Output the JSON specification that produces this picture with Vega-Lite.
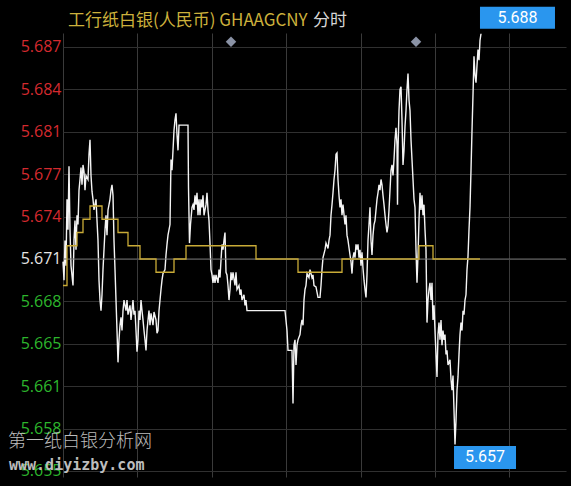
{
  "$schema": "https://vega.github.io/schema/vega-lite/v6.json",
  "width": 503,
  "height": 444,
  "autosize": {"type": "none"},
  "padding": {"left": 63, "top": 33, "right": 5, "bottom": 9},
  "background": "#000000",
  "config": {"view": {"stroke": null}},
  "datasets": {
    "price": [
      {"t": 0, "p": 5.6708}, {"t": 1, "p": 5.6694}, {"t": 2, "p": 5.6724}, {"t": 3, "p": 5.6705},
      {"t": 4, "p": 5.6755}, {"t": 5, "p": 5.6732}, {"t": 6, "p": 5.678}, {"t": 7, "p": 5.6732},
      {"t": 8, "p": 5.6705}, {"t": 10, "p": 5.669}, {"t": 11, "p": 5.6724}, {"t": 12, "p": 5.6739},
      {"t": 13, "p": 5.6717}, {"t": 14, "p": 5.6743}, {"t": 15, "p": 5.6736}, {"t": 16, "p": 5.6762},
      {"t": 17, "p": 5.677}, {"t": 18, "p": 5.6779}, {"t": 19, "p": 5.6766}, {"t": 20, "p": 5.6781},
      {"t": 21, "p": 5.6776}, {"t": 22, "p": 5.6762}, {"t": 23, "p": 5.6773}, {"t": 25, "p": 5.677},
      {"t": 26, "p": 5.6789}, {"t": 27, "p": 5.68}, {"t": 28, "p": 5.6773}, {"t": 29, "p": 5.6761},
      {"t": 30, "p": 5.6755}, {"t": 31, "p": 5.6747}, {"t": 33, "p": 5.6755}, {"t": 34, "p": 5.6739},
      {"t": 35, "p": 5.6724}, {"t": 36, "p": 5.6694}, {"t": 37, "p": 5.6679}, {"t": 38, "p": 5.6671},
      {"t": 39, "p": 5.6683}, {"t": 40, "p": 5.6702}, {"t": 41, "p": 5.6717}, {"t": 42, "p": 5.6732},
      {"t": 43, "p": 5.6743}, {"t": 44, "p": 5.6728}, {"t": 45, "p": 5.6747}, {"t": 47, "p": 5.6755},
      {"t": 48, "p": 5.6762}, {"t": 49, "p": 5.6766}, {"t": 50, "p": 5.6758}, {"t": 51, "p": 5.6724},
      {"t": 52, "p": 5.6702}, {"t": 53, "p": 5.6679}, {"t": 54, "p": 5.6656}, {"t": 55, "p": 5.6632},
      {"t": 56, "p": 5.6649}, {"t": 57, "p": 5.666}, {"t": 58, "p": 5.6666}, {"t": 59, "p": 5.6656},
      {"t": 60, "p": 5.6671}, {"t": 61, "p": 5.6679}, {"t": 63, "p": 5.6671}, {"t": 64, "p": 5.6679},
      {"t": 65, "p": 5.6668}, {"t": 67, "p": 5.6675}, {"t": 68, "p": 5.6664}, {"t": 70, "p": 5.6679},
      {"t": 71, "p": 5.6668}, {"t": 72, "p": 5.6671}, {"t": 73, "p": 5.6656}, {"t": 74, "p": 5.664},
      {"t": 75, "p": 5.6649}, {"t": 76, "p": 5.6671}, {"t": 77, "p": 5.6664}, {"t": 78, "p": 5.6679},
      {"t": 79, "p": 5.6671}, {"t": 80, "p": 5.6664}, {"t": 81, "p": 5.6656}, {"t": 82, "p": 5.6649},
      {"t": 83, "p": 5.6641}, {"t": 84, "p": 5.6656}, {"t": 85, "p": 5.6664}, {"t": 86, "p": 5.6671},
      {"t": 87, "p": 5.666}, {"t": 88, "p": 5.6669}, {"t": 90, "p": 5.666}, {"t": 91, "p": 5.667},
      {"t": 93, "p": 5.6664}, {"t": 94, "p": 5.6654}, {"t": 95, "p": 5.6656}, {"t": 96, "p": 5.6671},
      {"t": 97, "p": 5.6679}, {"t": 98, "p": 5.6687}, {"t": 99, "p": 5.6694}, {"t": 100, "p": 5.6699},
      {"t": 102, "p": 5.6702}, {"t": 103, "p": 5.6713}, {"t": 104, "p": 5.6721}, {"t": 105, "p": 5.6728},
      {"t": 107, "p": 5.6736}, {"t": 108, "p": 5.6785}, {"t": 109, "p": 5.6777}, {"t": 110, "p": 5.6792},
      {"t": 111, "p": 5.6807}, {"t": 112, "p": 5.6815}, {"t": 113, "p": 5.682}, {"t": 114, "p": 5.6804},
      {"t": 115, "p": 5.6792}, {"t": 116, "p": 5.6811}, {"t": 125, "p": 5.6811}, {"t": 125.5, "p": 5.6764},
      {"t": 126.5, "p": 5.6722}, {"t": 127.5, "p": 5.6736}, {"t": 129, "p": 5.6749}, {"t": 130, "p": 5.6751},
      {"t": 131, "p": 5.6747}, {"t": 132, "p": 5.6758}, {"t": 133, "p": 5.6751}, {"t": 134, "p": 5.676},
      {"t": 135, "p": 5.6743}, {"t": 136, "p": 5.6755}, {"t": 137, "p": 5.6743}, {"t": 138, "p": 5.6755},
      {"t": 139, "p": 5.6749}, {"t": 140, "p": 5.6758}, {"t": 141, "p": 5.6743}, {"t": 143, "p": 5.6751},
      {"t": 144, "p": 5.676}, {"t": 145, "p": 5.6747}, {"t": 146, "p": 5.6739}, {"t": 147, "p": 5.6722},
      {"t": 148, "p": 5.6702}, {"t": 149, "p": 5.6698}, {"t": 150, "p": 5.6692}, {"t": 151, "p": 5.6698},
      {"t": 152, "p": 5.6692}, {"t": 153, "p": 5.6698}, {"t": 155, "p": 5.6692}, {"t": 156, "p": 5.6702},
      {"t": 157, "p": 5.6696}, {"t": 158, "p": 5.6709}, {"t": 159, "p": 5.6721}, {"t": 160, "p": 5.6717},
      {"t": 161, "p": 5.6724}, {"t": 162, "p": 5.673}, {"t": 163, "p": 5.67}, {"t": 164, "p": 5.6698},
      {"t": 165, "p": 5.669}, {"t": 166, "p": 5.6679}, {"t": 167, "p": 5.6687}, {"t": 168, "p": 5.67},
      {"t": 169, "p": 5.6694}, {"t": 170, "p": 5.67}, {"t": 172, "p": 5.669}, {"t": 173, "p": 5.67},
      {"t": 174, "p": 5.6687}, {"t": 176, "p": 5.669}, {"t": 177, "p": 5.6683}, {"t": 178, "p": 5.6687},
      {"t": 179, "p": 5.6679}, {"t": 181, "p": 5.6683}, {"t": 182, "p": 5.6675}, {"t": 183, "p": 5.6679},
      {"t": 184, "p": 5.6671}, {"t": 222, "p": 5.6671}, {"t": 224, "p": 5.6656}, {"t": 225, "p": 5.6641},
      {"t": 229, "p": 5.6641}, {"t": 230, "p": 5.6601}, {"t": 231, "p": 5.6645}, {"t": 232, "p": 5.6649},
      {"t": 233, "p": 5.663}, {"t": 234, "p": 5.6645}, {"t": 235, "p": 5.6649}, {"t": 237, "p": 5.6653},
      {"t": 238, "p": 5.666}, {"t": 239, "p": 5.6664}, {"t": 240, "p": 5.666}, {"t": 241, "p": 5.6679},
      {"t": 242, "p": 5.6687}, {"t": 243, "p": 5.669}, {"t": 244, "p": 5.6699}, {"t": 246, "p": 5.6696},
      {"t": 247, "p": 5.6702}, {"t": 249, "p": 5.6696}, {"t": 250, "p": 5.6698}, {"t": 251, "p": 5.669},
      {"t": 253, "p": 5.6689}, {"t": 255, "p": 5.6681}, {"t": 257, "p": 5.6681}, {"t": 258, "p": 5.669},
      {"t": 259, "p": 5.6702}, {"t": 260, "p": 5.6711}, {"t": 262, "p": 5.6717}, {"t": 263, "p": 5.6722},
      {"t": 265, "p": 5.6718}, {"t": 266, "p": 5.6724}, {"t": 267, "p": 5.6728}, {"t": 268, "p": 5.6743},
      {"t": 269, "p": 5.6751}, {"t": 270, "p": 5.676}, {"t": 271, "p": 5.677}, {"t": 272, "p": 5.6777},
      {"t": 273, "p": 5.6789}, {"t": 274, "p": 5.679}, {"t": 275, "p": 5.677}, {"t": 276, "p": 5.6758},
      {"t": 277, "p": 5.6749}, {"t": 278, "p": 5.6755}, {"t": 279, "p": 5.6743}, {"t": 280, "p": 5.6751},
      {"t": 282, "p": 5.6736}, {"t": 283, "p": 5.6743}, {"t": 284, "p": 5.6728}, {"t": 285, "p": 5.6724},
      {"t": 287, "p": 5.6713}, {"t": 288, "p": 5.6708}, {"t": 289, "p": 5.6699}, {"t": 290, "p": 5.6711},
      {"t": 291, "p": 5.6715}, {"t": 292, "p": 5.6711}, {"t": 293, "p": 5.6721}, {"t": 294, "p": 5.6717},
      {"t": 295, "p": 5.6721}, {"t": 296, "p": 5.6711}, {"t": 297, "p": 5.6717}, {"t": 298, "p": 5.6705},
      {"t": 299, "p": 5.6715}, {"t": 300, "p": 5.6703}, {"t": 301, "p": 5.6694}, {"t": 302, "p": 5.6687},
      {"t": 303, "p": 5.6681}, {"t": 304, "p": 5.6698}, {"t": 305, "p": 5.6724}, {"t": 306, "p": 5.6736},
      {"t": 307, "p": 5.6749}, {"t": 308, "p": 5.6724}, {"t": 309, "p": 5.6713}, {"t": 310, "p": 5.6728},
      {"t": 311, "p": 5.6736}, {"t": 312, "p": 5.6739}, {"t": 313, "p": 5.6747}, {"t": 314, "p": 5.6755},
      {"t": 315, "p": 5.676}, {"t": 316, "p": 5.6766}, {"t": 317, "p": 5.6762}, {"t": 318, "p": 5.677},
      {"t": 319, "p": 5.6766}, {"t": 320, "p": 5.6758}, {"t": 321, "p": 5.6751}, {"t": 322, "p": 5.6743},
      {"t": 323, "p": 5.6736}, {"t": 324, "p": 5.673}, {"t": 325, "p": 5.6735}, {"t": 326, "p": 5.6747},
      {"t": 327, "p": 5.6762}, {"t": 328, "p": 5.6777}, {"t": 329, "p": 5.6781}, {"t": 330, "p": 5.6773},
      {"t": 331, "p": 5.6785}, {"t": 332, "p": 5.68}, {"t": 333, "p": 5.6809}, {"t": 334, "p": 5.6796},
      {"t": 334.5, "p": 5.6751}, {"t": 335, "p": 5.6792}, {"t": 336, "p": 5.6822}, {"t": 337, "p": 5.6838},
      {"t": 338, "p": 5.684}, {"t": 339, "p": 5.6815}, {"t": 340, "p": 5.6781}, {"t": 341, "p": 5.6792},
      {"t": 342, "p": 5.681}, {"t": 343, "p": 5.6822}, {"t": 344, "p": 5.6838}, {"t": 345, "p": 5.685},
      {"t": 346, "p": 5.683}, {"t": 347, "p": 5.6822}, {"t": 348, "p": 5.68}, {"t": 349, "p": 5.6785},
      {"t": 350, "p": 5.677}, {"t": 351, "p": 5.6755}, {"t": 352, "p": 5.6749}, {"t": 353, "p": 5.6717},
      {"t": 354, "p": 5.6692}, {"t": 355, "p": 5.6713}, {"t": 356, "p": 5.6739}, {"t": 357, "p": 5.676},
      {"t": 358, "p": 5.6747}, {"t": 359, "p": 5.6758}, {"t": 360, "p": 5.6743}, {"t": 361, "p": 5.6751},
      {"t": 362, "p": 5.6732}, {"t": 363, "p": 5.6717}, {"t": 364, "p": 5.6662}, {"t": 365, "p": 5.6679},
      {"t": 366, "p": 5.6687}, {"t": 367, "p": 5.6692}, {"t": 368, "p": 5.6679}, {"t": 369, "p": 5.6692},
      {"t": 370, "p": 5.6664}, {"t": 371, "p": 5.6675}, {"t": 372, "p": 5.6656}, {"t": 373, "p": 5.6638},
      {"t": 374, "p": 5.6621}, {"t": 375, "p": 5.6653}, {"t": 376, "p": 5.6662}, {"t": 377, "p": 5.6649},
      {"t": 378, "p": 5.6664}, {"t": 379, "p": 5.6645}, {"t": 380, "p": 5.6656}, {"t": 381, "p": 5.6649},
      {"t": 382, "p": 5.6653}, {"t": 383, "p": 5.6638}, {"t": 384, "p": 5.6641}, {"t": 385, "p": 5.663},
      {"t": 387, "p": 5.6634}, {"t": 388, "p": 5.6619}, {"t": 389, "p": 5.6611}, {"t": 390, "p": 5.6622},
      {"t": 391, "p": 5.6596}, {"t": 392, "p": 5.657}, {"t": 393, "p": 5.6588}, {"t": 394, "p": 5.6611},
      {"t": 395, "p": 5.6621}, {"t": 396, "p": 5.6638}, {"t": 397, "p": 5.6653}, {"t": 398, "p": 5.6662},
      {"t": 399, "p": 5.6656}, {"t": 400, "p": 5.6671}, {"t": 401, "p": 5.6668}, {"t": 402, "p": 5.6679},
      {"t": 403, "p": 5.6683}, {"t": 404, "p": 5.6702}, {"t": 405, "p": 5.6712}, {"t": 406, "p": 5.6732},
      {"t": 407, "p": 5.6749}, {"t": 408, "p": 5.6777}, {"t": 409, "p": 5.6807}, {"t": 410, "p": 5.6834},
      {"t": 411, "p": 5.6863}, {"t": 412, "p": 5.6849}, {"t": 413, "p": 5.6843}, {"t": 414, "p": 5.6856},
      {"t": 415, "p": 5.6868}, {"t": 416, "p": 5.686}, {"t": 417, "p": 5.6875}, {"t": 418, "p": 5.688}
    ],
    "average": [
      {"t": 0, "p": 5.669}, {"t": 4, "p": 5.672}, {"t": 14, "p": 5.673}, {"t": 20, "p": 5.674},
      {"t": 27, "p": 5.675}, {"t": 39, "p": 5.674}, {"t": 55, "p": 5.673}, {"t": 65, "p": 5.672},
      {"t": 77, "p": 5.671}, {"t": 93, "p": 5.67}, {"t": 111, "p": 5.671}, {"t": 123, "p": 5.672},
      {"t": 193, "p": 5.671}, {"t": 235, "p": 5.67}, {"t": 279, "p": 5.671}, {"t": 356, "p": 5.672},
      {"t": 370, "p": 5.671}, {"t": 417, "p": 5.671}
    ],
    "events": [{"t": 168}, {"t": 353}]
  },
  "layer": [
    {
      "data": {"name": "price"},
      "mark": {"type": "line", "color": "#f4f4f4", "strokeWidth": 1.4},
      "encoding": {
        "x": {
          "field": "t", "type": "quantitative",
          "scale": {"domain": [0, 503], "nice": false, "zero": false},
          "axis": {
            "title": null, "labels": false, "ticks": false, "domain": false, "grid": true,
            "values": [0, 19, 37, 56, 74, 93, 112, 130, 149, 167, 186, 205, 223, 242, 260, 279, 298, 316, 335, 353, 372, 391, 409, 428, 446, 465, 484, 502],
            "gridWidth": 1,
            "gridColor": {"condition": {"test": "datum.value % 37.2 > 5 && datum.value % 37.2 < 32", "value": "#303030"}, "value": "#3a3a3a"},
            "gridDash": {"condition": {"test": "datum.value % 37.2 > 5 && datum.value % 37.2 < 32", "value": [1, 2]}, "value": []}
          }
        },
        "y": {
          "field": "p", "type": "quantitative",
          "scale": {"domain": [5.654547, 5.688056], "nice": false, "zero": false},
          "axis": {
            "title": null, "ticks": false, "tickSize": 0, "domain": false, "grid": true,
            "gridColor": "#303030", "gridWidth": 1,
            "values": [5.655, 5.6582, 5.6614, 5.6646, 5.6678, 5.671, 5.6742, 5.6774, 5.6806, 5.6838, 5.687],
            "format": ".3f", "labelPadding": 2, "labelFont": "Open Sans", "labelFontSize": 16,
            "labelOverlap": false,
            "labelColor": {
              "condition": [
                {"test": "datum.value > 5.6712", "value": "#d42a2f"},
                {"test": "datum.value < 5.6708", "value": "#2db62d"}
              ],
              "value": "#e4e4e4"
            }
          }
        }
      }
    },
    {
      "data": {"values": [{}]},
      "mark": {"type": "rule", "color": "#676767", "strokeWidth": 1},
      "encoding": {"y": {"datum": 5.671, "type": "quantitative"}}
    },
    {
      "data": {"name": "average"},
      "mark": {"type": "line", "color": "#c9ab37", "strokeWidth": 1.3, "interpolate": "step-after"},
      "encoding": {
        "x": {"field": "t", "type": "quantitative"},
        "y": {"field": "p", "type": "quantitative"}
      }
    },
    {
      "data": {"name": "events"},
      "mark": {"type": "point", "shape": "diamond", "filled": true, "size": 110, "color": "#8a92a5", "opacity": 1},
      "encoding": {
        "x": {"field": "t", "type": "quantitative"},
        "y": {"datum": 5.6874, "type": "quantitative"}
      }
    },
    {
      "data": {"name": "price"},
      "transform": [
        {"joinaggregate": [{"op": "max", "field": "t", "as": "tLast"}]},
        {"filter": "datum.t === datum.tLast"}
      ],
      "encoding": {
        "x": {"field": "t", "type": "quantitative"},
        "y": {"field": "p", "type": "quantitative"}
      },
      "layer": [
        {"mark": {"type": "point", "shape": "M-0.027,-0.72H1.973V-0.133H-0.027Z", "size": 5625, "filled": true, "color": "#2a96ee", "opacity": 1, "strokeWidth": 0}},
        {
          "mark": {"type": "text", "dx": 36.5, "dy": -16, "align": "center", "baseline": "middle", "color": "#ffffff", "font": "Roboto", "fontSize": 16},
          "encoding": {"text": {"field": "p", "type": "quantitative", "format": ".3f"}}
        }
      ]
    },
    {
      "data": {"name": "price"},
      "transform": [
        {"joinaggregate": [{"op": "min", "field": "p", "as": "pLow"}]},
        {"filter": "datum.p === datum.pLow"}
      ],
      "encoding": {
        "x": {"field": "t", "type": "quantitative"},
        "y": {"field": "p", "type": "quantitative"}
      },
      "layer": [
        {"mark": {"type": "point", "shape": "M-0.032,0.048H1.968V0.79H-0.032Z", "size": 3844, "filled": true, "color": "#2a96ee", "opacity": 1, "strokeWidth": 0}},
        {
          "mark": {"type": "text", "dx": 30, "dy": 13, "align": "center", "baseline": "middle", "color": "#ffffff", "font": "Roboto", "fontSize": 16},
          "encoding": {"text": {"field": "p", "type": "quantitative", "format": ".3f"}}
        }
      ]
    },
    {
      "data": {"values": [{}]},
      "mark": {"type": "text", "text": "工行纸白银(人民币) GHAAGCNY", "align": "left", "baseline": "middle", "font": "Noto Sans CJK SC", "fontSize": 17, "color": "#cdb13c"},
      "encoding": {
        "x": {"datum": 5, "type": "quantitative"},
        "y": {"datum": 5.68896, "type": "quantitative"}
      }
    },
    {
      "data": {"values": [{}]},
      "mark": {"type": "text", "text": "分时", "align": "left", "baseline": "middle", "font": "Noto Sans CJK SC", "fontSize": 17, "color": "#d6d6d6"},
      "encoding": {
        "x": {"datum": 250, "type": "quantitative"},
        "y": {"datum": 5.68896, "type": "quantitative"}
      }
    },
    {
      "data": {"values": [{}]},
      "mark": {"type": "text", "text": "第一纸白银分析网", "align": "left", "baseline": "middle", "font": "Noto Sans CJK SC", "fontWeight": 300, "fontSize": 18, "color": "#d0d0d0", "opacity": 0.9},
      "encoding": {
        "x": {"datum": -55, "type": "quantitative"},
        "y": {"datum": 5.65719, "type": "quantitative"}
      }
    },
    {
      "data": {"values": [{}]},
      "mark": {"type": "text", "text": "www.diyizby.com", "align": "left", "baseline": "middle", "font": "DejaVu Sans Mono", "fontWeight": "bold", "fontSize": 15, "color": "#bdbdbd"},
      "encoding": {
        "x": {"datum": -54, "type": "quantitative"},
        "y": {"datum": 5.65545, "type": "quantitative"}
      }
    }
  ]
}
